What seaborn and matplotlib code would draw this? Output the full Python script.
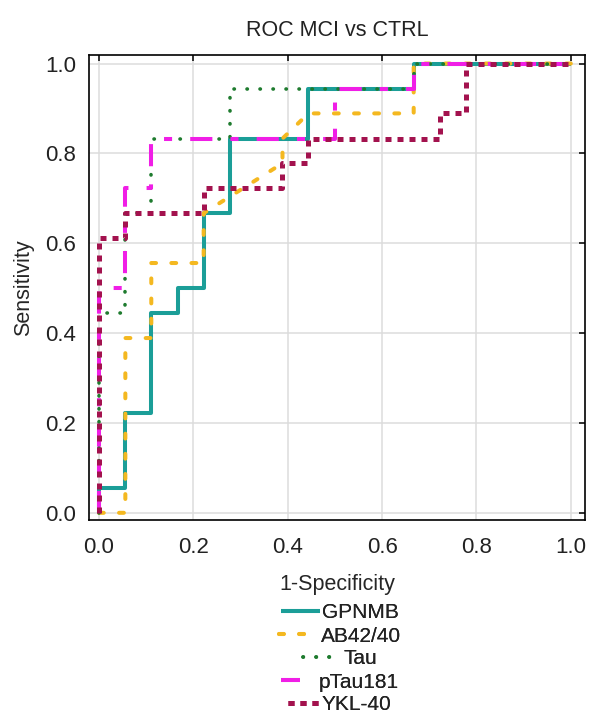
import matplotlib
matplotlib.use("Agg")
import matplotlib.pyplot as plt
import seaborn as sns
import pandas as pd

# ROC curve vertices (1-specificity, sensitivity) for each biomarker
gpnmb_fpr = [0, 0, 0.056, 0.056, 0.111, 0.111, 0.167, 0.167, 0.222, 0.222, 0.278, 0.278, 0.444, 0.444, 0.667, 0.667, 1.0]
gpnmb_tpr = [0, 0.056, 0.056, 0.222, 0.222, 0.444, 0.444, 0.5, 0.5, 0.667, 0.667, 0.833, 0.833, 0.944, 0.944, 1.0, 1.0]

ab_fpr = [0, 0.056, 0.056, 0.111, 0.111, 0.222, 0.222, 0.389, 0.389, 0.444, 0.667, 0.667, 1.0]
ab_tpr = [0, 0, 0.389, 0.389, 0.556, 0.556, 0.667, 0.778, 0.833, 0.889, 0.889, 1.0, 1.0]

tau_fpr = [0, 0, 0.056, 0.056, 0.111, 0.111, 0.278, 0.278, 0.667, 0.667, 1.0]
tau_tpr = [0, 0.444, 0.444, 0.667, 0.667, 0.833, 0.833, 0.944, 0.944, 1.0, 1.0]

ptau_fpr = [0, 0, 0.056, 0.056, 0.111, 0.111, 0.5, 0.5, 0.667, 0.667, 1.0]
ptau_tpr = [0, 0.5, 0.5, 0.722, 0.722, 0.833, 0.833, 0.944, 0.944, 1.0, 1.0]

ykl_fpr = [0, 0, 0.056, 0.056, 0.222, 0.222, 0.389, 0.389, 0.444, 0.444, 0.722, 0.722, 0.778, 0.778, 1.0]
ykl_tpr = [0, 0.611, 0.611, 0.667, 0.667, 0.722, 0.722, 0.778, 0.778, 0.833, 0.833, 0.889, 0.889, 1.0, 1.0]

labels = ["GPNMB", "AB42/40", "Tau", "pTau181", "YKL-40"]
ticks = [0.0, 0.2, 0.4, 0.6, 0.8, 1.0]
tick_labels = ["0.0", "0.2", "0.4", "0.6", "0.8", "1.0"]

sns.set_style("white")
plt.rcParams["font.family"] = ["Liberation Sans", "DejaVu Sans"]
plt.rcParams["text.color"] = "#222222"

fig = plt.figure(figsize=(5.92, 7.22), dpi=100)
ax = fig.add_axes([89 / 592, 1 - 520 / 722, 496 / 592, 465 / 722])

styles = [
    dict(color="#1b9e98", lw=2.9, linestyle="-", solid_capstyle="butt"),
    dict(color="#f4b820", lw=2.9, linestyle=(0, (1.2, 3.8)), dash_capstyle="round"),
    dict(color="#1e7b2e", lw=2.6, linestyle=(0, (0.1, 3.5)), dash_capstyle="round"),
    dict(color="#f01ee6", lw=2.9, linestyle=(0, (5.5, 4.5, 2, 4.5)), dash_capstyle="butt"),
    dict(color="#a3124e", lw=3.6, linestyle=(0, (1.2, 1.2)), dash_capstyle="butt"),
]
series = [
    (gpnmb_fpr, gpnmb_tpr),
    (ab_fpr, ab_tpr),
    (tau_fpr, tau_tpr),
    (ptau_fpr, ptau_tpr),
    (ykl_fpr, ykl_tpr),
]

for (fpr, tpr), name, st in zip(series, labels, styles):
    df = pd.DataFrame({"fpr": fpr, "tpr": tpr})
    sns.lineplot(data=df, x="fpr", y="tpr", sort=False, estimator=None,
                 label=name, ax=ax, **st)

if ax.get_legend() is not None:
    ax.get_legend().remove()

ax.set_xlim(-0.021, 1.030)
ax.set_ylim(-0.016, 1.019)
ax.set_xticks(ticks)
ax.set_yticks(ticks)
ax.set_xticklabels(tick_labels)
ax.set_yticklabels(tick_labels)
ax.grid(True, color="#dcdcdc", lw=1.1)
ax.set_axisbelow(True)
for sp in ax.spines.values():
    sp.set_color("black")
    sp.set_linewidth(1.2)
ax.tick_params(direction="in", length=4, width=1.1, top=True, right=True,
               labelsize=16, colors="black", labelcolor="#222222")
ax.tick_params(axis="x", pad=12)
ax.tick_params(axis="y", pad=9)

ax.set_title("ROC MCI vs CTRL", fontsize=15.5, pad=14)
ax.set_xlabel("1-Specificity", fontsize=15.5, labelpad=12)
ax.set_ylabel("Sensitivity", fontsize=15.5, labelpad=8)

# one centred legend row per series
handles, _ = ax.get_legend_handles_labels()
rows_y = [613, 636, 659, 682, 705]
hlen = [1.83, 1.45, 1.35, 0.9, 1.5]
hpad = [0.1, 0.55, 0.6, 0.9, 0.1]
for h, name, y, hl, hp in zip(handles, labels, rows_y, hlen, hpad):
    leg = fig.legend([h], [name], loc="center",
                     bbox_to_anchor=(340 / 592, 1 - y / 722),
                     frameon=False, fontsize=15, handlelength=hl,
                     handletextpad=hp, borderpad=0, borderaxespad=0)
    fig.add_artist(leg)

fig.savefig("out.png", dpi=100)
